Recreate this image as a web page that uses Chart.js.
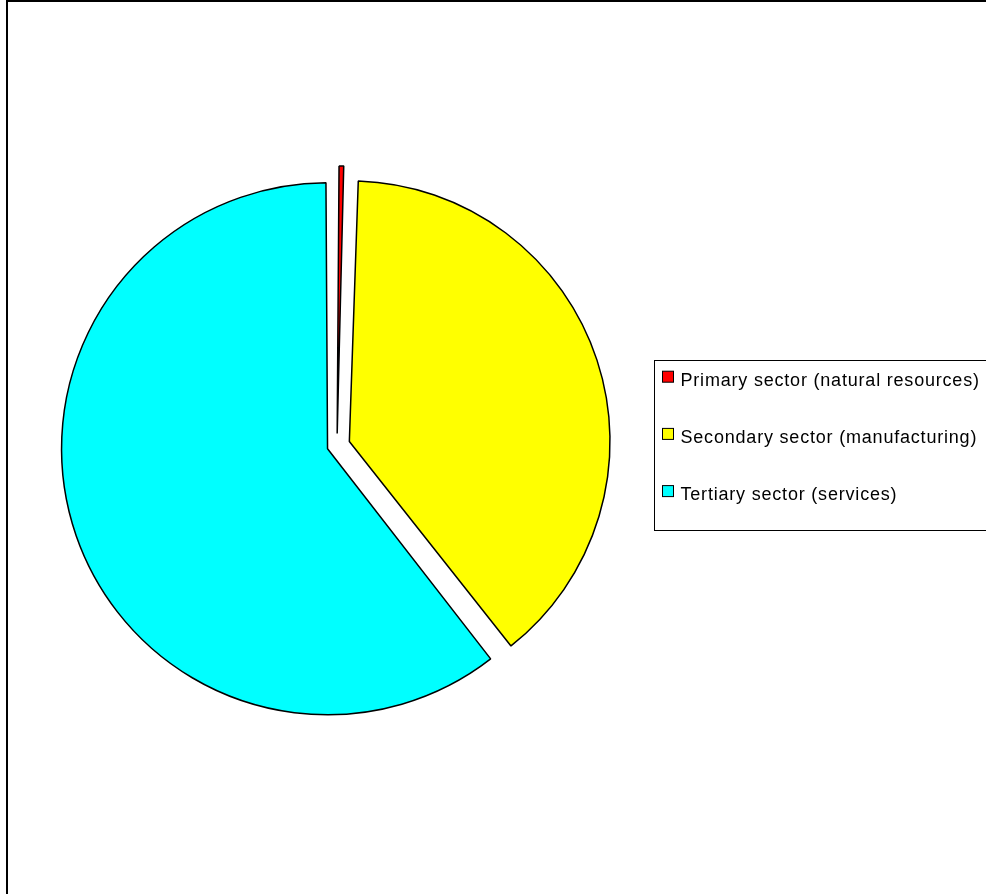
<!DOCTYPE html>
<html>
<head>
<meta charset="utf-8">
<title>Sectors</title>
<script src="https://cdn.jsdelivr.net/npm/chart.js@4.4.1/dist/chart.umd.min.js"></script>
<style>
	html, body { margin: 0; padding: 0; background: #fff; overflow: hidden; }
	#wrap { width: 986px; height: 894px; position: relative; }
</style>
</head>
<body>
<div id="wrap"><canvas id="SectorPie" width="986" height="894"></canvas></div>
<script>
const sectorLabels = ['Primary sector (natural resources)', 'Secondary sector (manufacturing)', 'Tertiary sector (services)'];
const sectorShares = [0.5, 38.9, 60.6];
const sectorColors = ['#ff0000', '#ffff00', '#00ffff'];

// frame round the chart + boxed legend on the right
const frameAndLegend = {
	id: 'frameAndLegend',
	afterDraw(chart) {
		const ctx = chart.ctx;
		ctx.save();
		ctx.strokeStyle = '#000';
		ctx.lineWidth = 2;
		ctx.strokeRect(7, 1, 1000, 1000);

		ctx.lineWidth = 1;
		ctx.strokeRect(654.5, 360.5, 400, 170);

		const colors = chart.data.datasets[0].backgroundColor;
		ctx.font = '18px "Liberation Sans", Arial, sans-serif';
		ctx.letterSpacing = '0.8px';
		ctx.textBaseline = 'alphabetic';
		ctx.fillStyle = '#000';
		chart.data.labels.forEach((label, i) => {
			var base = 385.7 + i * 57.2;
			ctx.fillStyle = colors[i];
			ctx.fillRect(662.5, base - 14.5, 11, 11);
			ctx.strokeRect(662.5, base - 14.5, 11, 11);
			ctx.fillStyle = '#000';
			ctx.fillText(label, 680.5, base);
		});
		ctx.restore();
	}
};

const config = {
	type: 'pie',
	data: {
		labels: sectorLabels,
		datasets: [{
			data: sectorShares,
			backgroundColor: sectorColors,
			borderColor: '#000',
			borderWidth: 1.5,
			// every slice pulled out a little
			offset: [48, 52, 40],
			radius: 256
		}]
	},
	options: {
		responsive: false,
		animation: false,
		events: [],
		layout: {
			padding: { left: 20, right: 332, top: 20, bottom: 23 }
		},
		plugins: {
			legend: { display: false },
			tooltip: { enabled: false }
		}
	},
	plugins: [frameAndLegend]
};

const sectorPie = new Chart(document.getElementById('SectorPie'), config);
</script>
</body>
</html>
